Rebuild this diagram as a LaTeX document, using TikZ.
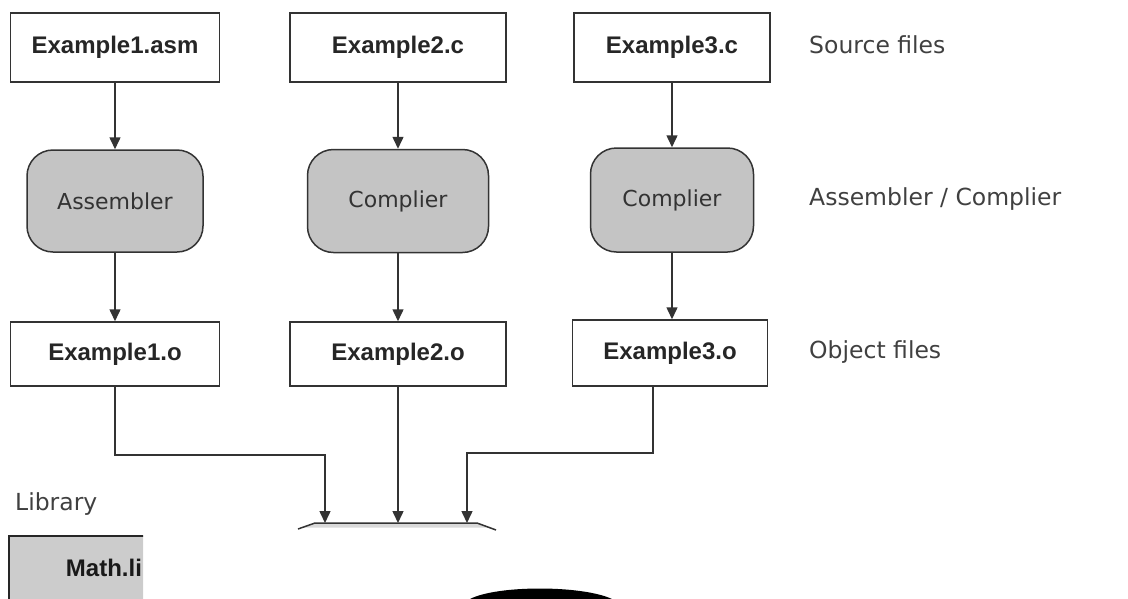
\documentclass[tikz,border=0pt]{standalone}
\usepackage{fontspec}
\setmainfont{DejaVu Sans}
\newfontfamily\boxfont{Liberation Sans}
\usetikzlibrary{arrows.meta}
\begin{document}
\begin{tikzpicture}[x=1pt,y=-1pt,
  line/.style={draw=black!80, line width=1.5pt},
  arr/.style={line, -{Triangle[length=12pt,width=11pt]}},
  filebox/.style={draw=black!80, line width=1.5pt, fill=white, inner sep=0pt,
    font=\boxfont\bfseries\fontsize{24}{28}\selectfont, text=black!85},
  procbox/.style={draw=black!80, line width=1.5pt, fill=black!23, inner sep=0pt,
    rounded corners=26pt, font=\fontsize{22}{26}\selectfont, text=black!80},
  libbox/.style={draw=black!85, line width=2pt, fill=black!20,
    font=\boxfont\bfseries\fontsize{24}{28}\selectfont, text=black!90},
  lab/.style={font=\fontsize{23.5}{28}\selectfont, text=black!75, inner sep=0pt}]
\path[use as bounding box] (0,0) rectangle (1128,598);
\clip (0,0) rectangle (1128,598);

% source files
\node[filebox, minimum width=209pt, minimum height=69pt] (s1) at (115,47.5) {Example1.asm};
\node[filebox, minimum width=216pt, minimum height=69pt] (s2) at (398,47.5) {Example2.c};
\node[filebox, minimum width=196pt, minimum height=69pt] (s3) at (672,47.5) {Example3.c};

% assembler / compiler
\node[procbox, minimum width=176pt, minimum height=102pt] (p1) at (115,201) {Assembler};
\node[procbox, minimum width=181pt, minimum height=103pt] (p2) at (398,201) {Complier};
\node[procbox, minimum width=163pt, minimum height=104pt] (p3) at (672,200) {Complier};

% object files
\node[filebox, minimum width=209pt, minimum height=64pt] (o1) at (115,354) {Example1.o};
\node[filebox, minimum width=216pt, minimum height=64pt] (o2) at (398,354) {Example2.o};
\node[filebox, minimum width=195pt, minimum height=66pt] (o3) at (670,353) {Example3.o};

% vertical arrows
\draw[arr] (s1.south) -- (p1.north);
\draw[arr] (s2.south) -- (p2.north);
\draw[arr] (s3.south) -- (p3.north);
\draw[arr] (p1.south) -- (o1.north);
\draw[arr] (p2.south) -- (o2.north);
\draw[arr] (p3.south) -- (p3.south |- o3.north);

% partial linker shape
\fill[black!15] (303,527.5) -- (315,523) -- (477,523) -- (492,527.5) -- cycle;
\draw[line] (298,529) -- (315,523) -- (477,523) -- (496,530);
\coordinate (lk) at (396,523);

\coordinate (b1) at (325,455);
\coordinate (b3) at (467,453);
\draw[arr] (o1.south) |- (b1) -- (b1 |- lk);
\draw[arr] (o2.south) -- (o2.south |- lk);
\draw[arr] ([xshift=-17pt]o3.south) |- (b3) -- (b3 |- lk);

% right labels
\node[lab, anchor=base west] (t1) at (809,53) {Source files};
\node[lab, anchor=base west] (t2) at (809,205) {Assembler / Complier};
\node[lab, anchor=base west] (t3) at (809,358) {Object files};

% library
\node[lab, anchor=base west] (t4) at (15,510) {Library};
\begin{scope}
  \clip (0,525) rectangle (143,598);
  \node[libbox, anchor=north west, inner xsep=0pt, inner ysep=23pt, text width=200pt,
        text depth=12pt, align=left] (lib) at (8,535) {\hspace*{57pt}Math.li};
\end{scope}

% black arc at the bottom
\fill[black] (470,599) .. controls (497,585) and (582,585) .. (612,599) -- cycle;
\end{tikzpicture}
\end{document}
